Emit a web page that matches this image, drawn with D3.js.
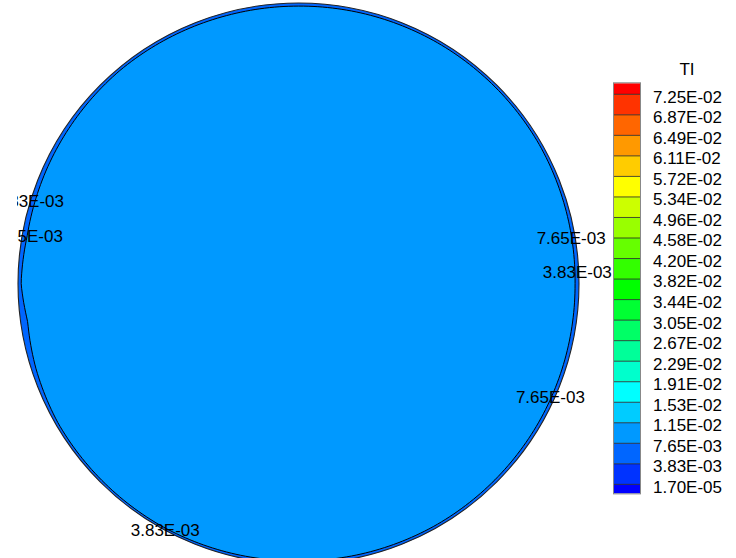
<!DOCTYPE html>
<html><head><meta charset="utf-8">
<script src="https://cdn.jsdelivr.net/npm/d3@7"></script>
<style>html,body{margin:0;padding:0;background:#fff;}svg{display:block;font-family:"Liberation Sans",Arial,sans-serif;}</style>
</head><body>
<svg id="chart" width="736" height="558"></svg>
<script>
// ---- data ----
const variableName = "TI";
const levelLabels = ["7.25E-02","6.87E-02","6.49E-02","6.11E-02","5.72E-02","5.34E-02","4.96E-02","4.58E-02","4.20E-02","3.82E-02","3.44E-02","3.05E-02","2.67E-02","2.29E-02","1.91E-02","1.53E-02","1.15E-02","7.65E-03","3.83E-03","1.70E-05"];
const bandColors = ["#ff0000","#ff3300","#ff6600","#ff9900","#ffcc00","#ffff00","#ccff00","#99ff00","#66ff00","#33ff00","#00ff00","#00ff33","#00ff66","#00ff99","#00ffcc","#00ffff","#00ccff","#0099ff","#0066ff","#0033ff","#0000ff"];
// domain fill: band between 1.15E-02 and 7.65E-03 (index 17), edge band index 18
const interiorBand = 17;
const edgeBand = 18;
// contour 7.65E-03 : relative radius at angle (deg, clockwise from top)
const contourAngles = [0, 30, 60, 90, 120, 150, 180, 210, 240, 252, 262, 270, 280, 295, 320, 345, 360];
const contourRadius = [0.989, 0.991, 0.991, 0.986, 0.989, 0.991, 0.989, 0.993, 0.991, 0.984, 0.975, 0.989, 0.982, 0.986, 0.991, 0.989, 0.989];
// contour labels (domain units, y up)
const contourLabelText = ["7.65E-03","3.83E-03","7.65E-03","3.83E-03","3.83E-03","7.65E-03"];
const contourLabelX = [0.972, 0.994, 0.898, -0.475, -0.959, -0.963];
const contourLabelY = [0.141, 0.021, -0.427, -0.899, 0.272, 0.149];

// ---- layout ----
const svg = d3.select("#chart");
const cx = 298.5, cy = 283.5, R = 280.5;
const x = d3.scaleLinear().domain([-1, 1]).range([cx - R, cx + R]);
const y = d3.scaleLinear().domain([-1, 1]).range([cy + R, cy - R]);
const rScale = d3.scaleLinear().domain([0, 1]).range([0, R]);
const contourR = d3.scaleLinear().domain(contourAngles).range(contourRadius);

const plot = svg.append("g");
// outer domain (edge band)
plot.append("circle")
  .attr("cx", x(0)).attr("cy", y(0)).attr("r", rScale(1))
  .attr("fill", bandColors[edgeBand])
  .attr("stroke", "#222").attr("stroke-width", 1.1);

// interior contour, traced around the full circle in polar coordinates
const angles = d3.range(0, 360, 1);
const radial = d3.lineRadial()
  .angle(a => a * Math.PI / 180)
  .radius(a => rScale(contourR(a)))
  .curve(d3.curveBasisClosed);
plot.append("path")
  .attr("transform", `translate(${x(0)},${y(0)})`)
  .attr("d", radial(angles))
  .attr("fill", bandColors[interiorBand])
  .attr("stroke", "#000").attr("stroke-width", 1);

// contour labels
svg.append("clipPath").attr("id", "lblclip")
  .append("rect").attr("x", 17).attr("y", 0).attr("width", 736).attr("height", 558);
svg.append("g").attr("clip-path", "url(#lblclip)")
  .selectAll("text").data(contourLabelText).join("text")
  .attr("x", (d, i) => x(contourLabelX[i]))
  .attr("y", (d, i) => y(contourLabelY[i]))
  .attr("text-anchor", "middle")
  .attr("font-size", 17).attr("fill", "#000")
  .text(d => d);

// ---- legend ----
const legX = 614, legW = 26;
const firstBoundary = 94.3, step = 20.53;
const bY = d3.scaleLinear().domain([0, levelLabels.length - 1])
  .range([firstBoundary, firstBoundary + step * (levelLabels.length - 1)]);
const legTop = bY(0) - 11, legBottom = bY(levelLabels.length - 1) + 9;
const edges = [legTop].concat(levelLabels.map((d, i) => bY(i))).concat([legBottom]);

const leg = svg.append("g");
leg.selectAll("rect.sw").data(bandColors).join("rect")
  .attr("class", "sw")
  .attr("x", legX).attr("width", legW)
  .attr("y", (d, i) => edges[i])
  .attr("height", (d, i) => edges[i + 1] - edges[i])
  .attr("fill", d => d);
leg.selectAll("line.sep").data(levelLabels).join("line")
  .attr("class", "sep")
  .attr("x1", legX).attr("x2", legX + legW)
  .attr("y1", (d, i) => bY(i)).attr("y2", (d, i) => bY(i))
  .attr("stroke", "#222").attr("stroke-width", 0.8);
leg.append("rect")
  .attr("x", legX - 0.5).attr("y", legTop - 0.5)
  .attr("width", legW + 1).attr("height", legBottom - legTop + 1)
  .attr("fill", "none").attr("stroke", "#888").attr("stroke-width", 1);
leg.selectAll("text.lab").data(levelLabels).join("text")
  .attr("class", "lab")
  .attr("x", 653).attr("y", (d, i) => bY(i) + 8.4)
  .attr("font-size", 17).attr("fill", "#000")
  .text(d => d);
leg.append("text")
  .attr("x", 687).attr("y", 75)
  .attr("text-anchor", "middle")
  .attr("font-size", 17).attr("fill", "#000")
  .text(variableName);
</script>
</body></html>
